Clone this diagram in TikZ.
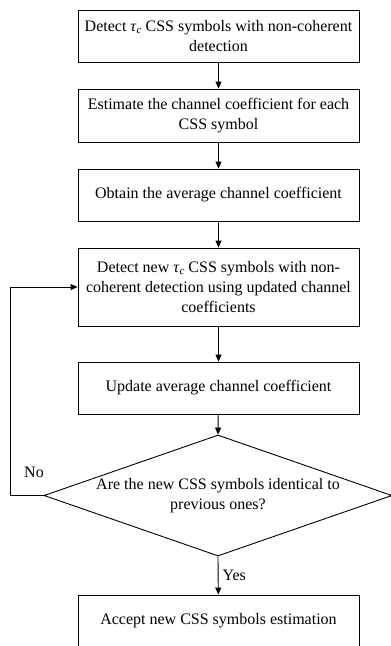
\documentclass[tikz,border=0pt]{standalone}
\usepackage{fontspec}
\setmainfont{Liberation Serif}
\usetikzlibrary{shapes.geometric,arrows.meta}
\newcommand{\tauc}{{\itshape τ\kern0.5pt\raisebox{-2.5pt}{\fontsize{11pt}{11pt}\selectfont c}}}
\tikzset{
  stepbox/.style={draw, line width=0.9pt, rectangle, minimum width=281pt, align=center, inner sep=2pt,
    font=\fontsize{16pt}{20pt}\selectfont},
  decide/.style={draw, line width=0.9pt, diamond, aspect=2.876, minimum width=348pt, minimum height=121pt, inner sep=0pt, align=center,
    font=\fontsize{16pt}{20pt}\selectfont},
  flow/.style={line width=0.9pt, -{Triangle[length=7pt,width=6pt]}},
  lbl/.style={font=\fontsize{16pt}{20pt}\selectfont, inner sep=0pt}
}
\begin{document}
\begin{tikzpicture}[x=1pt,y=-1pt]
\useasboundingbox (0,0) rectangle (391,646);
\clip (0,0) rectangle (391,646);
\node[stepbox, minimum height=52pt] (b1) at (218.5,36) {Detect \tauc{} CSS symbols with non-coherent\\detection};
\node[stepbox, minimum height=53pt] (b2) at (218.5,115.5) {Estimate the channel coefficient for each\\CSS symbol};
\node[stepbox, minimum height=52pt] (b3) at (218.5,195) {Obtain the average channel coefficient};
\node[stepbox, minimum height=78pt] (b4) at (218.5,287) {Detect new \tauc{} CSS symbols with non-\\coherent detection using updated channel\\coefficients};
\node[stepbox, minimum height=52pt] (b5) at (218.5,388) {Update average channel coefficient};
\node[decide] (d) at (218,495.5) {Are the new CSS symbols identical to\\previous ones?};
\node[stepbox, minimum height=52pt] (b6) at (218.5,621) {Accept new CSS symbols estimation};
\coordinate (c1) at (10,495.5);
\coordinate (c2) at (10,287);
\draw[flow] (b1) -- (b2);
\draw[flow] (b2) -- (b3);
\draw[flow] (b3) -- (b4);
\draw[flow] (b4) -- (b5);
\draw[flow] (b5) -- (d.north);
\draw[flow] (d.south) -- node[lbl, right=4pt] (yes) {Yes} (b6);
\draw[flow] (d.west) -- (c1) -- (c2) -- (b4.west);
\node[lbl] (no) at (34,472) {No};
\end{tikzpicture}
\end{document}
